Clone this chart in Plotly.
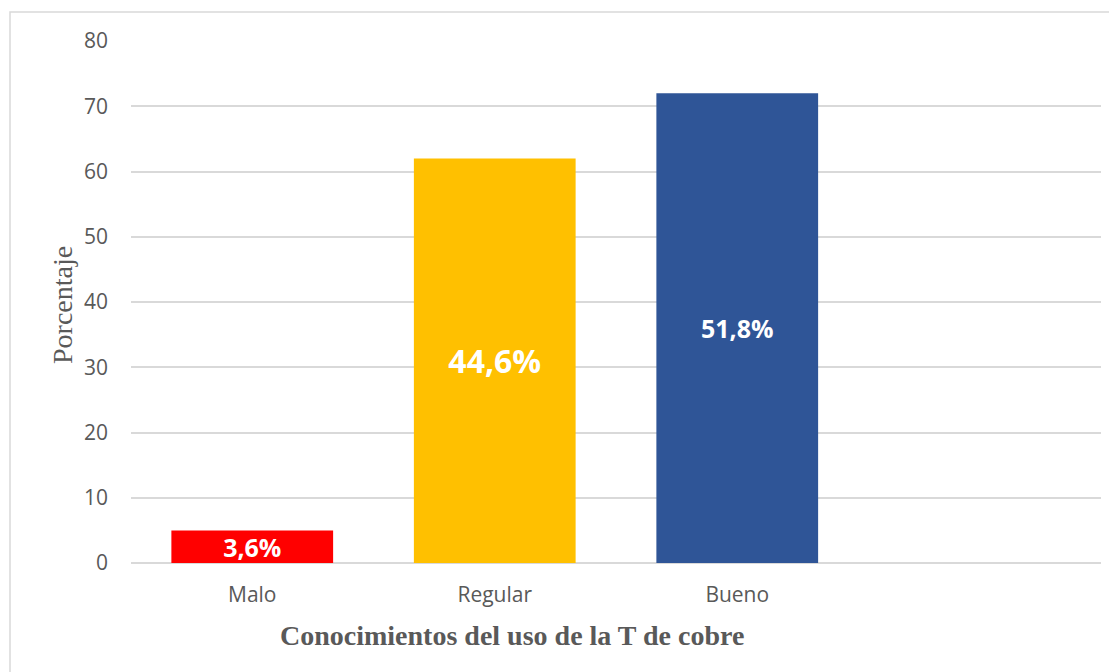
import plotly.graph_objects as go

categories = ["Malo", "Regular", "Bueno"]
values = [5, 62, 72]
labels = ["3,6%", "44,6%", "51,8%"]
colors = ["#FF0000", "#FFC000", "#2F5597"]
label_sizes = [25, 32, 25]
y_ticks = [0, 10, 20, 30, 40, 50, 60, 70, 80]

positions = list(range(len(categories)))

# page body has an 8px margin; compensate so the plot area lands at the right spot
OFF = 8
L, T, PW, PH = 131 - OFF, 41 - OFF, 970, 522

fig = go.Figure()
fig.add_trace(go.Bar(
    x=positions,
    y=values,
    width=0.667,
    marker=dict(color=colors, line=dict(width=0)),
    text=labels,
    textposition="inside",
    insidetextanchor="middle",
    textangle=0,
    constraintext="none",
    cliponaxis=False,
    textfont=dict(family="Open Sans", color="white", size=label_sizes, weight="bold"),
    hoverinfo="skip",
))

fig.update_layout(
    width=1117 - OFF,
    height=672 - OFF,
    margin=dict(l=L, r=16, t=T, b=109, pad=0),
    paper_bgcolor="white",
    plot_bgcolor="white",
    showlegend=False,
    uniformtext=dict(mode=False),
)

fig.update_xaxes(
    range=[-0.5, 3.5],
    tickmode="array",
    tickvals=positions,
    ticktext=categories,
    showgrid=False,
    zeroline=False,
    showline=False,
    ticks="",
    ticklabelstandoff=17,
    tickfont=dict(family="Open Sans", size=21, color="#595959"),
)

fig.update_yaxes(
    range=[0, 80],
    tickmode="array",
    tickvals=y_ticks,
    showgrid=True,
    gridcolor="#D9D9D9",
    gridwidth=1.5,
    zeroline=True,
    zerolinecolor="#D9D9D9",
    zerolinewidth=1.5,
    showline=False,
    ticks="",
    ticklabelstandoff=22,
    tickfont=dict(family="Open Sans", size=21, color="#595959"),
)

fig.add_annotation(
    text="Porcentaje", xref="paper", yref="paper",
    x=(62 - 131) / PW, y=1 - (305 - 41) / PH, textangle=-90, showarrow=False,
    xanchor="center", yanchor="middle",
    font=dict(family="Liberation Serif", size=28, color="#595959"),
)
fig.add_annotation(
    text="<b>Conocimientos del uso de la T de cobre</b>", xref="paper", yref="paper",
    x=(512 - 131) / PW, y=-(635 - 563) / PH, showarrow=False,
    xanchor="center", yanchor="middle",
    font=dict(family="Liberation Serif", size=28, color="#595959"),
)

fig.add_shape(
    type="rect", xref="paper", yref="paper",
    x0=(10 - 131) / PW, x1=1.2, y0=-0.6, y1=1 + (41 - 12) / PH,
    line=dict(color="#D9D9D9", width=1.5), fillcolor="rgba(0,0,0,0)",
    layer="below",
)

fig.write_html("out.html")
